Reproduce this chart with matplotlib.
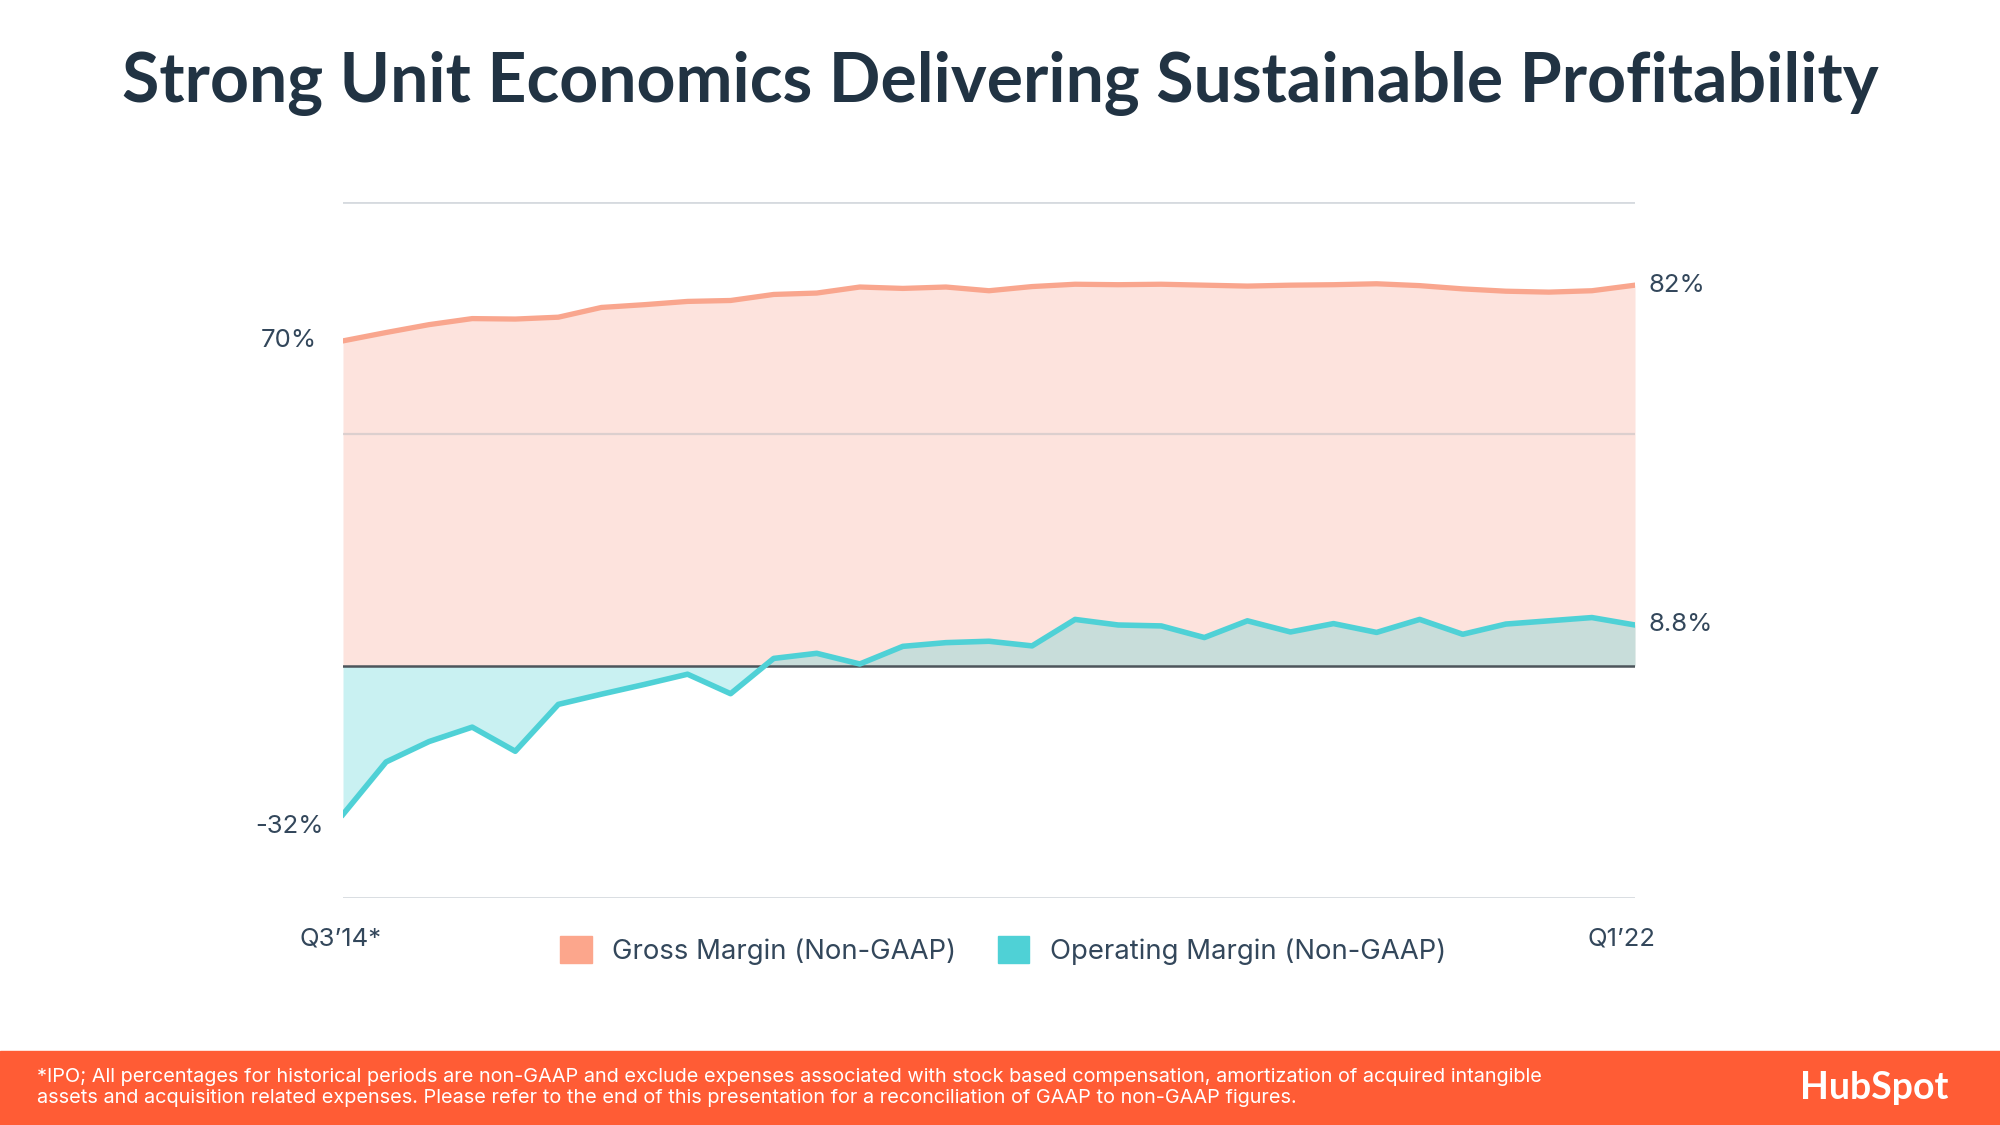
import numpy as np
import matplotlib
matplotlib.use('Agg')
from matplotlib import pyplot as plt
from matplotlib.patches import Patch, Rectangle

plt.rcParams['font.family'] = ['Inter', 'DejaVu Sans']

quarters = ["Q3'14", "Q4'14",
            "Q1'15", "Q2'15", "Q3'15", "Q4'15",
            "Q1'16", "Q2'16", "Q3'16", "Q4'16",
            "Q1'17", "Q2'17", "Q3'17", "Q4'17",
            "Q1'18", "Q2'18", "Q3'18", "Q4'18",
            "Q1'19", "Q2'19", "Q3'19", "Q4'19",
            "Q1'20", "Q2'20", "Q3'20", "Q4'20",
            "Q1'21", "Q2'21", "Q3'21", "Q4'21",
            "Q1'22"]
gross_margin = [70.0, 71.8, 73.5, 74.8, 74.7, 75.1, 77.2, 77.8, 78.5, 78.7,
                80.0, 80.3, 81.6, 81.3, 81.6, 80.8, 81.7, 82.2, 82.1, 82.2,
                82.0, 81.8, 82.0, 82.1, 82.3, 81.9, 81.2, 80.7, 80.5, 80.8,
                82.0]
operating_margin = [-32.0, -20.7, -16.3, -13.2, -18.4, -8.3, -6.1, -4.0, -1.8, -6.0,
                    1.6, 2.7, 0.4, 4.2, 5.0, 5.3, 4.3, 10.0, 8.8, 8.6,
                    6.1, 9.7, 7.3, 9.1, 7.2, 10.0, 6.8, 9.0, 9.7, 10.4,
                    8.8]
first_label = "Q3\u201914*"
last_label = "Q1\u201922"
gross_name = "Gross Margin (Non-GAAP)"
op_name = "Operating Margin (Non-GAAP)"

navy = '#33475b'
title_col = '#213343'
salmon = '#f9a68e'
pink_fill = '#fde3dd'
teal = '#4fd1d6'
orange = '#ff5c35'

x = np.arange(len(quarters))

fig = plt.figure(figsize=(20, 11.25), dpi=100)
ax = fig.add_axes([0.1715, 0.2018, 0.646, 0.619])

ax.fill_between(x, 0, gross_margin, color=pink_fill, lw=0, zorder=1)
ax.fill_between(x, 0, operating_margin, color=teal, alpha=0.3, lw=0, zorder=2)
ax.axhline(50, color='#cfc7c9', lw=1.6, alpha=0.7, zorder=1.5)
for yv in [100, -50]:
    ax.axhline(yv, color='#d6dadf', lw=2, zorder=1)
ax.plot(x, gross_margin, color=salmon, lw=3.8, zorder=3, solid_joinstyle='round')
ax.axhline(0, color='#4d555b', lw=1.8, zorder=3.5)
ax.plot(x, operating_margin, color=teal, lw=4.0, zorder=4, solid_joinstyle='round')

ax.set_xlim(0, len(quarters) - 1)
ax.set_ylim(-50, 100)
ax.axis('off')

lbl = dict(fontsize=18.5, color=navy)
ax.annotate('%d%%' % round(gross_margin[0]), (0, gross_margin[0]), xytext=(-19, 0),
            textcoords='offset points', ha='right', va='center', **lbl)
ax.annotate('%d%%' % round(operating_margin[0]), (0, operating_margin[0]), xytext=(-14, -9),
            textcoords='offset points', ha='right', va='center', **lbl)
ax.annotate('%d%%' % round(gross_margin[-1]), (x[-1], gross_margin[-1]), xytext=(10, 0),
            textcoords='offset points', ha='left', va='center', **lbl)
ax.annotate('%.1f%%' % operating_margin[-1], (x[-1], operating_margin[-1]), xytext=(10, 0),
            textcoords='offset points', ha='left', va='center', **lbl)
ax.annotate(first_label, (0, -50), xytext=(-2, -29.5), textcoords='offset points',
            ha='center', va='center', **lbl)
ax.annotate(last_label, (x[-1], -50), xytext=(-10, -29.5), textcoords='offset points',
            ha='center', va='center', **lbl)

handles = [Patch(color='#fca68c', label=gross_name), Patch(color=teal, label=op_name)]
fig.legend(handles=handles, loc='center', bbox_to_anchor=(0.5015, 0.1555), ncol=2,
           frameon=False, fontsize=19.8, labelcolor=navy, handlelength=1.15,
           handleheight=1.15, handletextpad=0.75, columnspacing=1.5)

fig.text(0.5, 0.9255, "Strong Unit Economics Delivering Sustainable Profitability",
         ha='center', va='center', fontsize=49, fontweight='bold', color=title_col,
         family=['Lato', 'DejaVu Sans'])

# footer band
fig.patches.append(Rectangle((0, 0), 1, 0.0658, transform=fig.transFigure,
                             color=orange, zorder=0))
fig.text(0.0185, 0.0335,
         "*IPO; All percentages for historical periods are non-GAAP and exclude expenses associated with stock based compensation, amortization of acquired intangible\n"
         "assets and acquisition related expenses. Please refer to the end of this presentation for a reconciliation of GAAP to non-GAAP figures.",
         ha='left', va='center', fontsize=14.3, color='white', linespacing=1.25)
fig.text(0.937, 0.033, "HubSpot", ha='center', va='center', fontsize=27,
         fontweight='bold', color='white', family=['Lato', 'DejaVu Sans'])

fig.savefig('out.png', dpi=100, facecolor='white')
